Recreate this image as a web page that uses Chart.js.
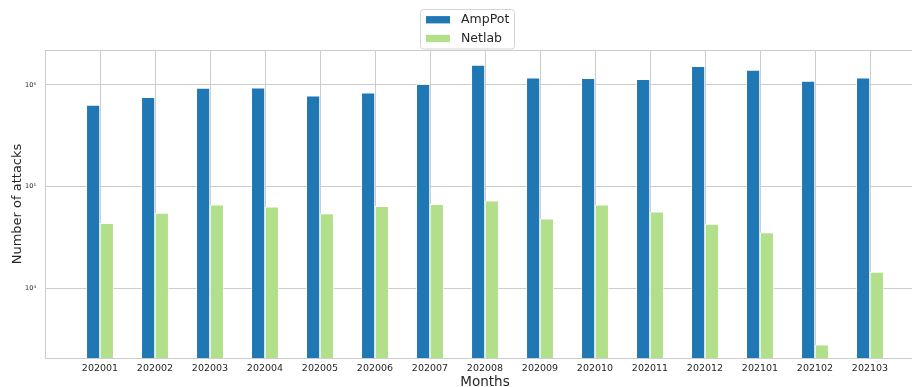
<!DOCTYPE html>
<html>
<head>
<meta charset="utf-8">
<script src="https://cdn.jsdelivr.net/npm/chart.js@4/dist/chart.umd.min.js"></script>
<style>
  html, body { margin: 0; padding: 0; overflow: hidden; background: #fff; }
  #wrap { width: 925px; height: 387px; }
</style>
</head>
<body>
<div id="wrap"><canvas id="c" width="925" height="387"></canvas></div>
<script>
// Monthly attack counts seen by each honeypot network
const months = ['202001', '202002', '202003', '202004', '202005', '202006', '202007', '202008',
                '202009', '202010', '202011', '202012', '202101', '202102', '202103'];
const ampPot = [635000, 757000, 934000, 941000, 785000, 840000, 1016000, 1573000,
                1180000, 1164000, 1137000, 1527000, 1404000, 1095000, 1180000];
const netlab = [43600, 54800, 66100, 63100, 54300, 64100, 67100, 72300,
                48100, 66100, 56400, 42900, 35300, 2770, 14400];
const yTickValues = [1e4, 1e5, 1e6];
const yTickLabels = ['10⁴', '10⁵', '10⁶'];

const BLUE = '#1f77b4';
const GREEN = '#b2df8a';
const GRID = '#cccccc';
const TEXT = '#262626';

Chart.defaults.font.family = "'DejaVu Sans', sans-serif";
Chart.defaults.color = TEXT;

// Boxed legend in the top margin plus the top frame line of the plot
const frameAndLegend = {
  id: 'frameAndLegend',
  afterDraw(chart) {
    const ctx = chart.ctx;
    const area = chart.chartArea;
    ctx.save();
    ctx.strokeStyle = GRID;
    ctx.lineWidth = 1;
    ctx.beginPath();
    ctx.moveTo(area.left, area.top + 0.5);
    ctx.lineTo(area.right, area.top + 0.5);
    ctx.stroke();

    const x = 420.5, y = 9.5, w = 94, h = 39.5, r = 3;
    ctx.beginPath();
    ctx.roundRect(x, y, w, h, r);
    ctx.fillStyle = 'rgba(255,255,255,0.8)';
    ctx.fill();
    ctx.strokeStyle = '#d4d4d4';
    ctx.stroke();

    ctx.font = "12.5px 'DejaVu Sans', sans-serif";
    ctx.textBaseline = 'middle';
    ctx.textAlign = 'left';
    chart.data.datasets.forEach((ds, i) => {
      const cy = 19.7 + i * 18.7;
      ctx.fillStyle = ds.backgroundColor;
      ctx.fillRect(426, cy - 3.6, 24, 7.3);
      ctx.fillStyle = TEXT;
      ctx.fillText(ds.label, 461, cy);
    });
    ctx.restore();
  }
};

new Chart(document.getElementById('c'), {
  type: 'bar',
  data: {
    datasets: [
      {
        label: 'AmpPot',
        data: ampPot.map((v, i) => ({ x: i, y: v })),
        backgroundColor: BLUE,
        borderColor: '#ffffff',
        borderWidth: 0.8
      },
      {
        label: 'Netlab',
        data: netlab.map((v, i) => ({ x: i, y: v })),
        backgroundColor: GREEN,
        borderColor: '#ffffff',
        borderWidth: 0.8
      }
    ]
  },
  options: {
    responsive: false,
    animation: false,
    maintainAspectRatio: false,
    layout: { padding: { top: 50, right: 0, left: 0, bottom: 0 } },
    categoryPercentage: 0.5,
    barPercentage: 1.0,
    plugins: {
      legend: { display: false },
      tooltip: { enabled: false }
    },
    scales: {
      x: {
        type: 'linear',
        min: -1,
        max: 15,
        offset: false,
        afterBuildTicks: s => { s.ticks = months.map((_, i) => ({ value: i })); },
        afterFit: s => { s.height = 29; s.paddingLeft = 0; s.paddingRight = 0; },
        ticks: {
          callback: v => months[v],
          font: { size: 9.5 },
          color: TEXT,
          padding: 5,
          maxRotation: 0,
          autoSkip: false
        },
        grid: { color: GRID, lineWidth: 1, drawTicks: false, offset: false },
        border: { color: GRID, width: 1 },
        title: {
          display: true,
          text: 'Months',
          font: { size: 13.5, lineHeight: 0.7 },
          color: TEXT,
          padding: { top: 0, bottom: 0 }
        }
      },
      y: {
        type: 'logarithmic',
        min: 2049,
        max: 2208000,
        afterBuildTicks: s => { s.ticks = yTickValues.map(v => ({ value: v })); },
        afterFit: s => { s.width = 45; s.paddingTop = 0; s.paddingBottom = 0; },
        ticks: {
          callback: v => yTickLabels[yTickValues.indexOf(v)],
          font: { size: 6.5 },
          color: TEXT,
          padding: 9,
          autoSkip: false
        },
        grid: { color: GRID, lineWidth: 1, drawTicks: false },
        border: { color: GRID, width: 1 },
        title: {
          display: true,
          text: 'Number of attacks',
          font: { size: 13 },
          color: TEXT,
          padding: { top: 9.5, bottom: 0 }
        }
      }
    }
  },
  plugins: [frameAndLegend]
});
</script>
</body>
</html>
